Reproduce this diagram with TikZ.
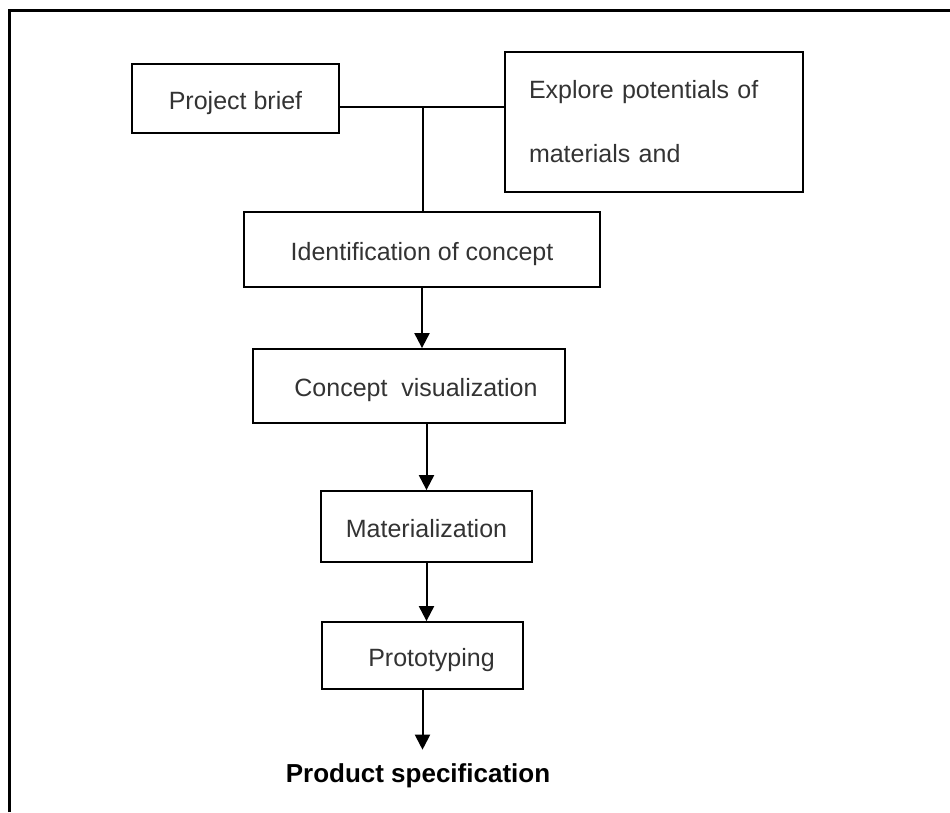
\documentclass[tikz,border=0pt]{standalone}
\usepackage{fontspec}
\setmainfont{Liberation Sans}
\usetikzlibrary{arrows.meta}
\tikzset{
  stepbox/.style={draw=black, line width=1.8pt, inner sep=0pt, text=black!80,
    font=\fontsize{25}{30}\selectfont, text height=21pt, text depth=0pt},
  conn/.style={draw=black, line width=2pt},
  arr/.style={conn, -{Triangle[width=15pt,length=15pt]}},
}
\begin{document}
\begin{tikzpicture}[x=1pt,y=-1pt]
\useasboundingbox (0,0) rectangle (950,812);
\draw[line width=3pt] (9,812) -- (9,10) -- (950,10);

\node[stepbox, minimum width=207pt, minimum height=69pt] (pb) at (235.5,98.5) {Project brief};
\node[stepbox, text height=, text depth=, minimum width=298pt, minimum height=140pt, text width=250pt, align=left,
      font=\fontsize{25}{64}\selectfont] (ex) at (654,122) {Explore potentials of\\materials and};
\node[stepbox, minimum width=356pt, minimum height=75pt] (id) at (422,249.5) {Identification of concept};
\node[stepbox, minimum width=312pt, minimum height=74pt] (cv) at (409,386) {\hspace*{14pt}Concept\ \ visualization};
\node[stepbox, minimum width=211pt, minimum height=71pt] (mat) at (426.5,526.5) {Materialization};
\node[stepbox, minimum width=201pt, minimum height=67pt] (pr) at (422.5,655.5) {\hspace*{18pt}Prototyping};
\node[inner xsep=0pt, inner ysep=0pt, font=\bfseries\fontsize{26}{30}\selectfont] (ps) at (418,776) {Product specification};

\coordinate (j) at (423,107);
\draw[conn] (pb.east |- j) -- (ex.west |- j);
\draw[conn] (j) -- (id.north -| j);
\draw[arr] (id.south) -- (id.south |- cv.north);
\draw[arr] (cv.south -| mat.north) -- (mat.north);
\draw[arr] (mat.south) -- (mat.south |- pr.north);
\draw[arr] (pr.south) -- ([yshift=14pt]pr.south |- ps.north);
\end{tikzpicture}
\end{document}
